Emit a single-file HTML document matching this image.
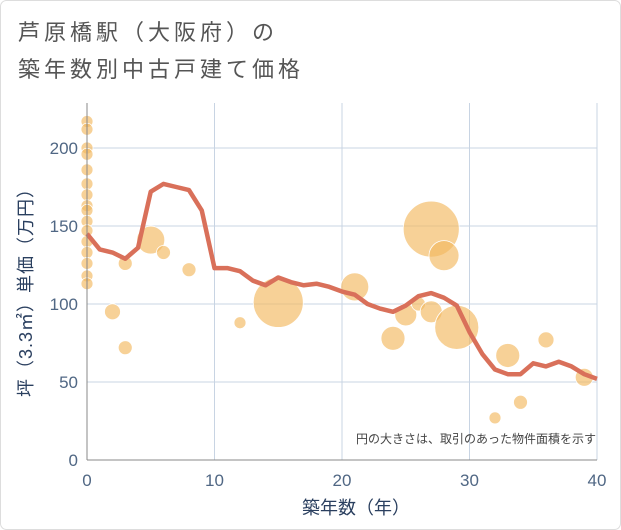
<!DOCTYPE html>
<html><head><meta charset="utf-8"><style>
body{margin:0;background:#fff}
svg{display:block;font-family:"Liberation Sans","Noto Sans CJK JP",sans-serif}
</style></head><body>
<svg id="c" width="621" height="530">
<rect x="0.5" y="0.5" width="620" height="529" rx="6" fill="#fff" stroke="#ddd"/>
<text x="18" y="40" font-size="22" letter-spacing="4" fill="#555">芦原橋駅（大阪府）の</text>
<text x="18" y="77" font-size="22" letter-spacing="4" fill="#555">築年数別中古戸建て価格</text>
<g id="grid"></g>
<g id="bubbles"></g>
<g id="line"></g>
<g id="axes"></g>
<text x="596" y="443" font-size="12" fill="#444" text-anchor="end">円の大きさは、取引のあった物件面積を示す</text>
<text x="356" y="514" font-size="18" fill="#2a3f5f" text-anchor="middle">築年数（年）</text>
<text transform="translate(32,288) rotate(-90)" font-size="18" letter-spacing="1" fill="#2a3f5f" text-anchor="middle">坪（3.3㎡）単価（万円）</text>
</svg>
<script>
const xTicks=[0,10,20,30,40];
const yTicks=[0,50,100,150,200];
const lineYears=[0,1,2,3,4,5,6,7,8,9,10,11,12,13,14,15,16,17,18,19,20,21,22,23,24,25,26,27,28,29,30,31,32,33,34,35,36,37,38,39,40];
const lineValues=[145,135,133,129,136,172,177,175,173,160,123,123,121,115,112,117,114,112,113,111,108,106,100,97,95,99,105,107,104,99,82,68,58,55,55,62,60,63,60,55,52];
const bubbleYears=[0,0,0,0,0,0,0,0,0,0,0,0,0,0,0,0,2,3,3,5,6,8,12,15,21,24,25,26,27,27,28,29,32,33,34,36,39];
const bubbleValues=[217,212,200,196,186,177,170,163,160,153,147,140,133,126,118,113,95,126,72,141,133,122,88,101,111,78,93,100,148,95,131,85,27,67,37,77,53];
const bubbleSizes=[6,6,6,6,6,6,6,6,6,6,6,6,6,6,6,6,8,7,7,14,7,7,6,25,14,12,11,7,28,11,15,22,6,12,7,8,9];
const X0=87,X1=597,Y0=460,Y1=148,PT=103;
const sx=v=>X0+(X1-X0)*v/40;
const sy=v=>Y0-(Y0-Y1)*v/200;
const NS="http://www.w3.org/2000/svg";
function mk(t,a,p){const e=document.createElementNS(NS,t);for(const k in a)e.setAttribute(k,a[k]);p.appendChild(e);return e;}
const grid=document.getElementById('grid'),axes=document.getElementById('axes');
xTicks.forEach(t=>{
 const l=mk('line',{x1:sx(t),x2:sx(t),y1:PT,y2:Y0,stroke:'#c8d4e3','stroke-width':1},grid);
 
 
 const tx=mk('text',{x:sx(t),y:Y0+26,'font-size':17,fill:'#506784','text-anchor':'middle'},axes);
 tx.textContent=t;
 
 
});
yTicks.forEach(t=>{
 const l=mk('line',{x1:X0,x2:X1,y1:sy(t),y2:sy(t),stroke:'#c8d4e3','stroke-width':1},grid);
 
 
 const tx=mk('text',{x:X0-9,y:sy(t)+6,'font-size':17,fill:'#506784','text-anchor':'end'},axes);
 tx.textContent=t;
 
 
});
const ax=mk('line',{x1:X0,x2:X0,y1:PT,y2:Y0,stroke:'#888','stroke-width':1},axes);


const bx=mk('line',{x1:X0,x2:X1,y1:Y0,y2:Y0,stroke:'#888','stroke-width':1},axes);


const bg=document.getElementById('bubbles');
bubbleYears.forEach((yr,i)=>{
 const c=mk('circle',{cx:sx(yr),cy:sy(bubbleValues[i]),r:bubbleSizes[i],fill:'#f3b95f','fill-opacity':0.65,stroke:'#fff','stroke-width':0.8},bg);
 
 
});
const pts=lineYears.map((y,i)=>sx(y)+','+sy(lineValues[i])).join(' ');
const pl=mk('polyline',{points:pts,fill:'none',stroke:'#d9705a','stroke-width':4.5,'stroke-linejoin':'round'},document.getElementById('line'));


</script>
</body></html>
